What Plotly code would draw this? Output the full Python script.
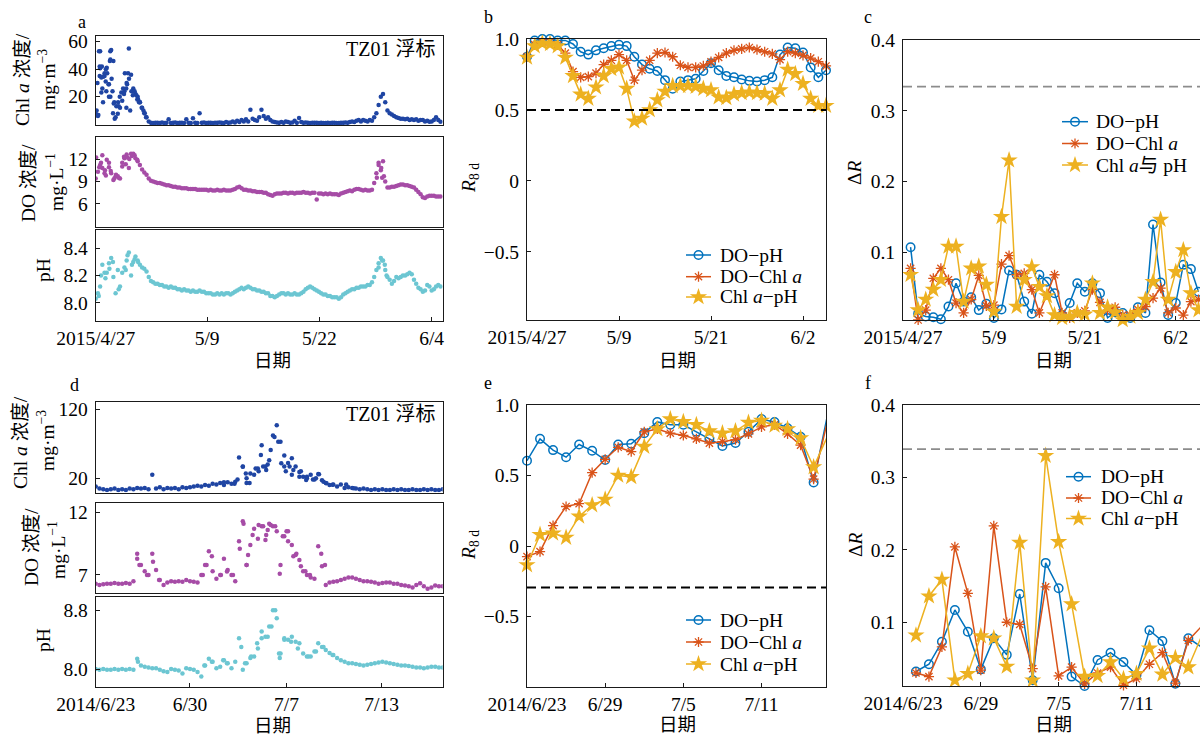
import numpy as np
import plotly.graph_objects as go

W, H = 1200, 736
FONT = "Liberation Serif, Times New Roman, Noto Sans CJK SC, serif"

# ---------------- data ----------------
# Panels a (2015 buoy TZ01), 6-hourly samples, day offset from 2015/4/27
A_STEP_DAYS = 0.25
a_chl = [8, 6, 53, 26, 35, 41, 20, 54, 46, 5, 7.5, 12, 17, 24, 30, 55,
         36, 26, 22, 20, 16, 12, 8, 5, 2, 1, 0.8, 1, 1, 0.8, 1.2, 0.9,
         1, 3.5, 0.9, 1, 1.2, 0.8, 1, 1.1, 0.9, 3.5, 1, 0.8, 4.3, 1, 0.9, 8,
         1, 1.2, 0.9, 1, 1, 0.8, 1.1, 1, 1.2, 1, 0.9, 1.5, 1, 1.3, 2, 1.2,
         2.5, 1.5, 3, 2, 3.5, 2, 10.5, 4, 3, 2.5, 5, 10.5, 6, 4, 5, 3,
         2, 1.5, 1.2, 1, 1.5, 1, 2, 1.5, 1, 1.2, 2.5, 1, 4.5, 1.5, 1, 1.2,
         1, 0.9, 1.1, 1, 1, 0.8, 1, 0.9, 0.8, 1, 0.9, 1, 1, 0.9, 0.8, 1,
         1, 1.2, 1, 1.5, 2, 1.5, 2.5, 3, 2, 3, 2.5, 2, 3, 2.5, 5, 8,
         14, 20, 22, 16, 10, 8, 7, 6, 5, 4.5, 4, 4, 3.5, 4, 3, 3.5,
         3, 3.5, 2.5, 3, 3, 2, 2.5, 1.7, 2, 3, 5, 3, 1.7]
a_do = [9.4, 10.3, 11.2, 12.5, 10.1, 11.9, 11.5, 10.1, 9.2, 9.7, 9.7, 9.4,
        11.0, 12.1, 12.6, 10.8, 12.7, 12.7, 12.1, 11.7, 11.2, 10.6, 10.2, 9.9,
        9.4, 9.1, 9.0, 8.9, 8.8, 8.8, 8.7, 8.6, 8.5, 8.5, 8.4, 8.3,
        8.3, 8.2, 8.2, 8.1, 8.1, 8.1, 8.0, 8.0, 8.0, 8.0, 7.9, 7.9,
        7.9, 7.9, 7.9, 7.8, 7.9, 7.8, 7.8, 7.9, 7.8, 7.8, 7.9, 7.8,
        7.8, 7.8, 7.9, 8.0, 8.2, 8.3, 8.1, 7.9, 7.9, 7.8, 7.8, 7.7,
        7.7, 7.6, 7.6, 7.6, 7.5, 7.5, 7.3, 7.2, 7.1, 7.3, 7.4, 7.4,
        7.4, 7.5, 7.5, 7.4, 7.5, 7.5, 7.4, 7.5, 7.5, 7.5, 7.6, 7.5,
        7.5, 7.4, 7.5, 7.5, 6.6, 7.4, 7.4, 7.3, 7.4, 7.3, 7.4, 7.3,
        7.3, 7.3, 7.2, 7.4, 7.5, 7.6, 7.7, 7.8, 7.7, 7.9, 8.0, 8.0,
        7.9, 7.8, 7.9, 7.8, 7.8, 7.9, 8.8, 10.1, 11.5, 10.5, 11.7, 9.0,
        8.2, 8.2, 8.3, 8.3, 8.4, 8.5, 8.6, 8.6, 8.5, 8.5, 8.4, 8.3,
        8.2, 7.9, 7.6, 7.3, 6.9, 6.8, 7.0, 7.1, 7.1, 7.1, 7.0, 7.0, 7.0]
a_ph = [8.03, 8.07, 8.12, 8.28, 8.22, 8.22, 8.29, 8.33, 8.19, 8.07, 8.24, 8.12,
        8.22, 8.26, 8.31, 8.37, 8.20, 8.30, 8.34, 8.31, 8.28, 8.26, 8.25, 8.23,
        8.19, 8.16, 8.15, 8.14, 8.14, 8.13, 8.13, 8.12, 8.12, 8.11, 8.12, 8.11,
        8.11, 8.10, 8.10, 8.09, 8.10, 8.09, 8.09, 8.08, 8.09, 8.08, 8.08, 8.09,
        8.08, 8.08, 8.07, 8.07, 8.07, 8.06, 8.06, 8.07, 8.06, 8.07, 8.06, 8.07,
        8.07, 8.06, 8.07, 8.08, 8.09, 8.10, 8.11, 8.10, 8.11, 8.12, 8.11, 8.10,
        8.10, 8.09, 8.09, 8.08, 8.08, 8.07, 8.07, 8.05, 8.05, 8.04, 8.05, 8.06,
        8.07, 8.07, 8.06, 8.07, 8.06, 8.06, 8.07, 8.06, 8.06, 8.07, 8.08, 8.10,
        8.11, 8.12, 8.11, 8.10, 8.09, 8.08, 8.07, 8.06, 8.06, 8.05, 8.05, 8.04,
        8.04, 8.04, 8.03, 8.04, 8.06, 8.07, 8.08, 8.09, 8.10, 8.10, 8.11, 8.11,
        8.12, 8.12, 8.12, 8.13, 8.13, 8.15, 8.19, 8.24, 8.29, 8.33, 8.31, 8.24,
        8.19, 8.17, 8.14, 8.16, 8.19, 8.18, 8.19, 8.20, 8.20, 8.21, 8.22, 8.21,
        8.17, 8.14, 8.11, 8.10, 8.08, 8.09, 8.13, 8.12, 8.09, 8.10, 8.12, 8.13, 8.12]

# extra (denser) samples read in the noisy bloom periods, panel a
a_chl_burst_t = [0.1, 0.2, 0.3, 0.37, 0.45, 0.45, 0.5, 0.64, 0.64, 0.7, 0.83, 0.85, 1.0, 1.13,
                 1.15, 1.2, 1.3, 1.45, 1.5, 1.6, 1.65, 1.66, 1.66, 1.8, 1.9, 1.96, 2.04, 2.1,
                 2.15, 2.34, 2.53, 2.6, 2.72, 2.9, 3.1, 3.2, 3.3, 3.45, 3.47, 3.55, 3.66, 3.77,
                 3.9, 4.04, 4.2, 4.3, 4.4, 4.6, 4.7, 4.8, 4.9, 5.0, 5.2, 5.4, 5.55, 5.7]
a_chl_burst = [10, 30, 6.6, 53, 42, 35, 40.6, 34, 23, 42, 16, 34.5, 37, 31,
               40, 24, 37, 29, 29, 46, 53, 47, 20, 33, 24, 8, 15, 16,
               4, 13, 16, 13, 20, 23, 26, 22, 37, 26, 12, 29, 37, 33,
               10, 24, 21, 24, 24, 21, 18, 18, 16, 16, 12, 10, 8, 5]
a_do_burst_t = [0.05, 0.4, 0.6, 0.75, 1.05, 1.15, 1.5, 1.7, 2.1, 2.3, 2.6, 3.0, 3.2, 3.4,
                3.6, 3.8, 4.1, 4.4, 4.7, 31.8, 32.0, 32.3, 32.4, 32.6]
a_do_burst = [12.2, 10.9, 11.5, 10.8, 10.5, 9.8, 10.9, 10.4, 9.4, 9.9, 9.5, 11.5, 12.3, 11.3,
              12.2, 12.0, 12.4, 12.5, 11.9, 9.5, 11.2, 10.8, 9.5, 9.7]
a_ph_burst_t = [0.35, 0.6, 1.1, 1.55, 1.95, 2.6, 3.4, 3.6, 4.1, 4.4, 4.8, 32.0, 32.4, 32.7,
                32.9]
a_ph_burst = [8.05, 8.20, 8.18, 8.25, 8.30, 8.10, 8.24, 8.35, 8.28, 8.32, 8.30, 8.26, 8.31,
              8.28, 8.20]

# Panels d (2014 buoy TZ01), 6-hourly samples, day offset from 2014/6/23
D_STEP_DAYS = 0.25
d_chl = [8, 5, 4, 3, 4, 5, 3, 4, 3, 5, 4, 6, 5, 6, 4, 25,
         5, 7, 4, 6, 5, 6, 4, 7, 6, 7, 8, 9, 8, 10, 9, 12,
         11, 13, 10, 14, 12, 15, 50, 37, 13, 27, 25, 34, 68, 37, 46, 82,
         97, 73, 53, 42, 49, 37, 29, 22, 20, 25, 18, 26, 17, 13, 10, 11,
         8, 11, 6, 7, 6, 5, 4, 5, 4, 3, 4, 3, 4, 3, 3, 4,
         3, 4, 3, 3, 4, 3, 3, 4, 3, 4, 3, 3, 4]
d_do = [6.3, 6.2, 6.25, 6.3, 6.3, 6.35, 6.3, 6.3, 6.35, 6.3, 6.5, 8.7,
        7.8, 7.3, 7.0, 8.7, 7.4, 6.6, 6.2, 6.4, 6.5, 6.45, 6.5, 6.45,
        6.6, 6.5, 6.45, 6.4, 7.0, 7.8, 8.9, 7.3, 6.7, 7.0, 8.3, 7.4,
        7.0, 6.5, 9.7, 11.3, 7.8, 9.4, 10.7, 9.9, 10.9, 9.8, 11.1, 10.9,
        10.5, 7.8, 10.1, 10.5, 9.4, 8.6, 8.2, 7.3, 7.0, 6.8, 6.7, 9.3,
        7.7, 6.2, 6.4, 6.45, 6.5, 6.6, 6.7, 6.8, 6.8, 6.7, 6.6, 6.5,
        6.5, 6.45, 6.4, 6.3, 6.35, 6.4, 6.4, 6.3, 6.3, 6.2, 6.15, 6.1,
        6.0, 6.2, 6.33, 6.1, 5.9, 6.0, 6.15, 6.1, 6.1]
d_ph = [8.00, 7.99, 8.00, 7.99, 7.99, 8.00, 7.99, 8.00, 7.99, 8.00, 7.99, 8.14,
        8.05, 8.03, 8.02, 8.01, 8.01, 7.99, 7.97, 7.96, 8.00, 7.99, 7.98, 7.94,
        8.01, 8.00, 7.99, 7.96, 7.90, 8.05, 8.14, 8.10, 8.01, 8.03, 8.12, 8.08,
        8.01, 8.10, 8.42, 7.99, 8.08, 8.15, 8.17, 8.28, 8.51, 8.44, 8.58, 8.80,
        8.69, 8.21, 8.42, 8.40, 8.44, 8.37, 8.35, 8.21, 8.17, 8.17, 8.24, 8.35,
        8.30, 8.26, 8.22, 8.19, 8.15, 8.12, 8.10, 8.08, 8.08, 8.07, 8.06, 8.05,
        8.06, 8.07, 8.08, 8.09, 8.10, 8.09, 8.08, 8.07, 8.06, 8.05, 8.05, 8.04,
        8.03, 8.02, 8.02, 8.01, 8.02, 8.03, 8.03, 8.02, 8.02]

# extra (denser) samples read in the bloom period, panel d
d_chl_burst_t = [8.5, 9.2, 9.4, 9.75, 9.95, 10.0, 10.2, 10.6, 10.8, 10.95, 11.1, 11.3, 11.4,
                 11.6, 11.85, 12.1, 12.3, 12.5, 12.6, 12.85, 13.0, 13.1, 13.5, 13.6, 13.95,
                 14.0, 14.4, 14.6, 14.8, 15.1, 15.3, 15.7, 16.6, 17.1]
d_chl_burst = [14, 12, 18, 36.8, 27, 20, 13, 34, 30, 53.7, 37, 32, 40,
               61, 80, 73, 41.6, 37, 30, 37, 25, 32, 22, 30, 17.6,
               22, 18, 20, 25.8, 15, 12.8, 10.4, 11, 5.6]
d_do_burst_t = [2.75, 2.9, 3.4, 3.8, 4.2, 7.1, 7.35, 7.7, 8.3, 8.7, 9.1, 9.55, 9.8, 10.0,
                10.1, 10.4, 10.8, 11.1, 11.3, 11.4, 11.6, 11.9, 12.2, 12.4, 12.65, 12.75,
                13.1, 13.3, 13.6, 13.9, 14.2, 14.95, 15.2]
d_do_burst = [8.3, 7.8, 7.0, 8.07, 6.6, 7.0, 7.8, 8.5, 7.0, 7.27, 7.0, 9.1, 11.1, 7.8,
              8.6, 10.2, 11.0, 10.9, 10.2, 10.6, 11.0, 10.9, 7.1, 10.1, 10.5, 9.7,
              8.5, 8.7, 7.7, 7.3, 7.0, 8.7, 7.8]
d_ph_burst_t = [2.8, 7.2, 7.7, 8.45, 8.7, 9.65, 9.9, 10.3, 10.7, 11.0, 11.4, 11.65, 11.9,
                12.15, 12.2, 12.5, 12.95, 13.4, 14.1, 14.6, 15.1, 15.7]
d_ph_burst = [8.10, 8.05, 8.10, 8.12, 8.08, 8.30, 8.08, 8.17, 8.35, 8.42, 8.44, 8.58, 8.80,
              8.21, 8.15, 8.40, 8.37, 8.28, 8.17, 8.24, 8.30, 8.19]

# Panel b: 8-day moving correlation R_8d (daily), 2015
b_days = list(range(40))
b_do_ph = [0.875, 0.99, 1.0, 1.0, 0.99, 0.99, 0.965, 0.91, 0.89, 0.92, 0.935, 0.95,
           0.96, 0.95, 0.875, 0.82, 0.79, 0.775, 0.71, 0.65, 0.70, 0.71, 0.72, 0.775,
           0.83, 0.78, 0.74, 0.73, 0.715, 0.705, 0.70, 0.71, 0.73, 0.89, 0.94, 0.935,
           0.905, 0.80, 0.73, 0.78]
b_do_chl = [0.875, 0.96, 0.98, 0.98, 0.96, 0.90, 0.77, 0.73, 0.735, 0.76, 0.82, 0.85,
            0.89, 0.85, 0.71, 0.78, 0.85, 0.90, 0.905, 0.875, 0.815, 0.80, 0.80, 0.81,
            0.84, 0.87, 0.90, 0.92, 0.93, 0.94, 0.925, 0.91, 0.895, 0.855, 0.91, 0.90,
            0.885, 0.865, 0.84, 0.81]
b_chl_ph = [0.87, 0.95, 0.97, 0.965, 0.95, 0.87, 0.74, 0.61, 0.58, 0.66, 0.74, 0.79,
            0.80, 0.65, 0.42, 0.44, 0.50, 0.57, 0.63, 0.67, 0.67, 0.67, 0.665, 0.65,
            0.64, 0.59, 0.585, 0.61, 0.62, 0.625, 0.62, 0.615, 0.58, 0.64, 0.785, 0.755,
            0.685, 0.58, 0.53, 0.53]
B_THRESHOLD = 0.5

# Panel c: delta R (daily), 2015
c_days = list(range(1, 40))
c_do_ph = [0.107, 0.013, 0.009, 0.008, 0.005, 0.023, 0.056, 0.030, 0.036, 0.018,
           0.027, 0.007, 0.019, 0.074, 0.068, 0.030, 0.013, 0.068, 0.058, 0.042,
           0.011, 0.028, 0.056, 0.044, 0.056, 0.042, 0.007, 0.015, 0.014, 0.007,
           0.022, 0.014, 0.139, 0.057, 0.011, 0.028, 0.082, 0.076, 0.044]
c_do_chl = [0.077, 0.004, 0.018, 0.063, 0.077, 0.061, 0.028, 0.014, 0.033, 0.067,
            0.024, 0.025, 0.083, 0.095, 0.068, 0.070, 0.047, 0.014, 0.040, 0.068,
            0.014, 0.007, 0.014, 0.017, 0.047, 0.029, 0.018, 0.022, 0.011, 0.011,
            0.019, 0.023, 0.035, 0.049, 0.014, 0.021, 0.011, 0.030, 0.033]
c_chl_ph = [0.068, 0.018, 0.033, 0.047, 0.061, 0.108, 0.108, 0.030, 0.077, 0.080,
            0.054, 0.016, 0.150, 0.230, 0.023, 0.061, 0.079, 0.051, 0.038, 0.011,
            0.007, 0.009, 0.014, 0.012, 0.056, 0.014, 0.022, 0.015, 0.004, 0.009,
            0.014, 0.033, 0.058, 0.146, 0.033, 0.072, 0.103, 0.042, 0.018]
C_THRESHOLD = 0.334

# Panel e: R_8d (daily), 2014
e_days = list(range(24))
e_do_ph = [0.605, 0.76, 0.68, 0.63, 0.72, 0.675, 0.61, 0.72, 0.725, 0.80, 0.88, 0.86,
           0.86, 0.81, 0.76, 0.71, 0.73, 0.81, 0.90, 0.88, 0.835, 0.775, 0.45, 0.90]
e_do_chl = [-0.075, -0.04, 0.145, 0.28, 0.30, 0.52, 0.615, 0.70, 0.67, 0.81, 0.83, 0.80,
            0.785, 0.76, 0.73, 0.74, 0.755, 0.795, 0.845, 0.86, 0.795, 0.715, 0.475, 0.86]
e_chl_ph = [-0.135, 0.08, 0.09, 0.06, 0.21, 0.29, 0.33, 0.50, 0.49, 0.705, 0.83, 0.90,
            0.88, 0.86, 0.815, 0.80, 0.815, 0.875, 0.89, 0.855, 0.83, 0.765, 0.56, 0.765]
E_THRESHOLD = -0.295

# Panel f: delta R (daily), 2014
f_days = list(range(1, 24))
f_do_ph = [0.032, 0.042, 0.073, 0.117, 0.087, 0.035, 0.078, 0.055, 0.139, 0.020, 0.182,
           0.147, 0.025, 0.012, 0.048, 0.058, 0.045, 0.027, 0.089, 0.074, 0.015, 0.078, 0.066]
f_do_chl = [0.030, 0.025, 0.066, 0.204, 0.140, 0.034, 0.233, 0.100, 0.097, 0.036, 0.149,
            0.026, 0.038, 0.015, 0.030, 0.038, 0.013, 0.022, 0.042, 0.058, 0.016, 0.075, 0.094]
f_chl_ph = [0.082, 0.136, 0.159, 0.020, 0.029, 0.081, 0.078, 0.039, 0.210, 0.020, 0.330,
            0.211, 0.125, 0.025, 0.026, 0.045, 0.022, 0.029, 0.064, 0.028, 0.051, 0.038, 0.080]
F_THRESHOLD = 0.339

# tick labels
a_tickvals = [0, 12.6, 25.3, 38.0]
a_ticktext = ["2015/4/27", "5/9", "5/22", "6/4"]
b_tickvals = [0, 12, 24, 36]
b_ticktext = ["2015/4/27", "5/9", "5/21", "6/2"]
d_tickvals = [0, 6.25, 12.65, 18.95]
d_ticktext = ["2014/6/23", "6/30", "7/7", "7/13"]
e_tickvals = [0, 6, 12, 18]
e_ticktext = ["2014/6/23", "6/29", "7/5", "7/11"]

a_t = [i * A_STEP_DAYS for i in range(len(a_chl))]
d_t = [i * D_STEP_DAYS for i in range(len(d_chl))]

# ---------------- styling ----------------
C_CHL = "#1f45a3"
C_DO = "#a64ca6"
C_PH = "#6cc6d2"
C_BLUE = "#0072BD"
C_ORANGE = "#D95319"
C_YELLOW = "#EDB120"
LINEC = "#1a1a1a"
TICK_SIZE = 19.5


def xd(p0, p1):
    return [p0 / W, p1 / W]


def yd(top, bottom):
    return [1 - bottom / H, 1 - top / H]


def px(x):
    return x / W


def py(y):
    return 1 - y / H


def axis(domain, rng, anchor, standoff=3, **kw):
    d = dict(domain=domain, range=rng, anchor=anchor, showline=True, linecolor=LINEC,
             linewidth=1, mirror=True, ticks="inside", ticklen=4, tickcolor=LINEC,
             showgrid=False, zeroline=False, ticklabelstandoff=standoff, automargin=False,
             fixedrange=True, tickfont=dict(size=TICK_SIZE, color="black", family=FONT))
    d.update(kw)
    return d


fig = go.Figure()


def scat(x, y, color, ax):
    fig.add_trace(go.Scatter(x=x, y=y, mode="markers", showlegend=False,
                             marker=dict(size=4.5, color=color),
                             xaxis="x" + ax, yaxis="y" + ax, hoverinfo="skip"))


scat(a_t + a_chl_burst_t, a_chl + a_chl_burst, C_CHL, "")
scat(a_t + a_do_burst_t, a_do + a_do_burst, C_DO, "2")
scat(a_t + a_ph_burst_t, a_ph + a_ph_burst, C_PH, "3")
scat(d_t + d_chl_burst_t, d_chl + d_chl_burst, C_CHL, "6")
scat(d_t + d_do_burst_t, d_do + d_do_burst, C_DO, "7")
scat(d_t + d_ph_burst_t, d_ph + d_ph_burst, C_PH, "8")

STYLES = [
    (C_BLUE, dict(color=C_BLUE, symbol="circle-open", size=8.5, line=dict(width=1.5, color=C_BLUE))),
    (C_ORANGE, dict(color=C_ORANGE, symbol="asterisk-open", size=8.5, line=dict(width=1.3, color=C_ORANGE))),
    (C_YELLOW, dict(color=C_YELLOW, symbol="star", size=13, line=dict(width=0))),
]


def lines(x, ys, ax):
    for y, (c, st) in zip(ys, STYLES):
        fig.add_trace(go.Scatter(x=x, y=y, mode="lines+markers", showlegend=False,
                                 line=dict(color=c, width=1.5), marker=st,
                                 xaxis="x" + ax, yaxis="y" + ax, cliponaxis=False))


lines(b_days, [b_do_ph, b_do_chl, b_chl_ph], "4")
lines(c_days, [c_do_ph, c_do_chl, c_chl_ph], "5")
lines(e_days, [e_do_ph, e_do_chl, e_chl_ph], "9")
lines(f_days, [f_do_ph, f_do_chl, f_chl_ph], "10")

# ---------------- legends (drawn on a full-page pixel overlay) ----------------
names_b = ["DO\u2212pH", "DO\u2212Chl <i>a</i>", "Chl <i>a</i>\u2212pH"]
names_c = ["DO\u2212pH", "DO\u2212Chl <i>a</i>", "Chl <i>a</i>与 pH"]
# (line start px, line end px, text start px, entry rows px, names)
LEGENDS = [
    (686, 711, 718, [255, 276.7, 297], names_b),
    (1062, 1088, 1094, [121.7, 143.5, 165], names_c),
    (686, 711, 718, [620, 642, 664], names_b),
    (1066, 1091, 1099, [476.7, 498, 518.5], names_b),
]
ann = []
for x0, x1, xt, rows, names in LEGENDS:
    for yrow, name, (c, st) in zip(rows, names, STYLES):
        fig.add_trace(go.Scatter(x=[x0, x1], y=[yrow, yrow], mode="lines", showlegend=False,
                                 line=dict(color=c, width=1.5), xaxis="x11", yaxis="y11",
                                 hoverinfo="skip"))
        fig.add_trace(go.Scatter(x=[(x0 + x1) / 2], y=[yrow], mode="markers", showlegend=False,
                                 marker=st, xaxis="x11", yaxis="y11", hoverinfo="skip"))
        ann.append(dict(x=px(xt), y=py(yrow), xref="paper", yref="paper", text=name,
                        showarrow=False, xanchor="left", yanchor="middle",
                        font=dict(size=19.5, family=FONT, color="black")))

# ---------------- axes ----------------
AX_A = xd(95.7, 442.7)
AX_B = xd(527, 826)
AX_C = xd(903, 1200)
hidden_x = dict(showticklabels=False, ticks="")
XS = 0  # x tick label standoff

layout = dict(
    template="none",
    width=W, height=H, margin=dict(l=0, r=0, t=0, b=0, pad=0, autoexpand=False),
    paper_bgcolor="white", plot_bgcolor="rgba(0,0,0,0)",
    font=dict(family=FONT, size=17, color="black"),
    showlegend=False,
    # panel a
    xaxis=axis(AX_A, [0, 39.25], "y", **hidden_x),
    yaxis=axis(yd(36, 125), [-0.6, 64.1], "x", tickvals=[20, 40, 60]),
    xaxis2=axis(AX_A, [0, 39.25], "y2", **hidden_x),
    yaxis2=axis(yd(136.7, 227), [2.9, 15.0], "x2", tickvals=[6, 9, 12]),
    xaxis3=axis(AX_A, [0, 39.25], "y3", XS, tickvals=a_tickvals, ticktext=a_ticktext),
    yaxis3=axis(yd(230, 320.7), [7.868, 8.535], "x3", tickvals=[8.0, 8.2, 8.4],
                ticktext=["8.0", "8.2", "8.4"]),
    # panel b
    xaxis4=axis(AX_B, [0, 39], "y4", XS, tickvals=b_tickvals, ticktext=b_ticktext),
    yaxis4=axis(yd(39, 320), [-0.98, 1.0], "x4", tickvals=[-0.5, 0, 0.5, 1.0],
                ticktext=["\u22120.5", "0", "0.5", "1.0"]),
    # panel c
    xaxis5=axis(AX_C, [0, 39.2], "y5", XS, tickvals=b_tickvals, ticktext=b_ticktext),
    yaxis5=axis(yd(40, 320), [0.004, 0.4], "x5", mirror=False, tickvals=[0.1, 0.2, 0.3, 0.4],
                ticktext=["0.1", "0.2", "0.3", "0.4"]),
    # panel d
    xaxis6=axis(AX_A, [0, 23], "y6", **hidden_x),
    yaxis6=axis(yd(402, 492.5), [-0.7, 130.6], "x6", tickvals=[20, 120]),
    xaxis7=axis(AX_A, [0, 23], "y7", **hidden_x),
    yaxis7=axis(yd(503.3, 593.3), [5.53, 12.75], "x7", tickvals=[7, 12]),
    xaxis8=axis(AX_A, [0, 23], "y8", XS, tickvals=d_tickvals, ticktext=d_ticktext),
    yaxis8=axis(yd(597, 686.7), [7.76, 8.98], "x8", tickvals=[8.0, 8.8], ticktext=["8.0", "8.8"]),
    # panel e
    xaxis9=axis(AX_B, [0, 22.95], "y9", XS, tickvals=e_tickvals, ticktext=e_ticktext),
    yaxis9=axis(yd(405, 687), [-1.0, 1.0], "x9", tickvals=[-0.5, 0, 0.5, 1.0],
                ticktext=["\u22120.5", "0", "0.5", "1.0"]),
    # panel f
    xaxis10=axis(AX_C, [0, 22.9], "y10", XS, tickvals=e_tickvals, ticktext=e_ticktext),
    yaxis10=axis(yd(405, 686), [0.012, 0.4], "x10", mirror=False, tickvals=[0.1, 0.2, 0.3, 0.4],
                 ticktext=["0.1", "0.2", "0.3", "0.4"]),
    # full-page pixel overlay for legend keys
    xaxis11=dict(domain=[0, 1], range=[0, W], anchor="y11", visible=False, fixedrange=True),
    yaxis11=dict(domain=[0, 1], range=[H, 0], anchor="x11", visible=False, fixedrange=True),
)
fig.update_layout(**layout)

# threshold lines
DASH = "9px,5px"
shapes = [
    dict(type="line", xref="x4 domain", yref="y4", x0=0, x1=1, y0=B_THRESHOLD, y1=B_THRESHOLD,
         line=dict(color="black", width=2, dash=DASH)),
    dict(type="line", xref="x9 domain", yref="y9", x0=0, x1=1, y0=E_THRESHOLD, y1=E_THRESHOLD,
         line=dict(color="black", width=2, dash=DASH)),
    dict(type="line", xref="x5 domain", yref="y5", x0=0, x1=1, y0=C_THRESHOLD, y1=C_THRESHOLD,
         line=dict(color="#8c8c8c", width=1.8, dash=DASH)),
    dict(type="line", xref="x10 domain", yref="y10", x0=0, x1=1, y0=F_THRESHOLD, y1=F_THRESHOLD,
         line=dict(color="#8c8c8c", width=1.8, dash=DASH)),
]
fig.update_layout(shapes=shapes)

# ---------------- annotations ----------------


def text(x, y, s, size=17, angle=0, xanchor="center"):
    ann.append(dict(x=px(x), y=py(y), xref="paper", yref="paper", text=s, showarrow=False,
                    textangle=angle, xanchor=xanchor, yanchor="middle",
                    font=dict(size=size, family=FONT, color="black")))


# panel letters
for lx, ly, s in [(82, 22, "a"), (488, 17, "b"), (868, 17, "c"),
                  (74, 385, "d"), (488, 383, "e"), (868, 383, "f")]:
    text(lx, ly, s, 18)

# TZ01 labels
text(437, 49, "TZ01 浮标", 20, xanchor="right")
text(437, 414, "TZ01 浮标", 20, xanchor="right")

# y titles panel a
text(22, 80, "Chl <i>a</i> 浓度/", 19.5, -90)
text(47, 80, "mg·m<sup>\u22123</sup>", 19.5, -90)
text(29, 183, "DO 浓度/", 19.5, -90)
text(55, 182, "mg·L<sup>\u22121</sup>", 19.5, -90)
text(43, 270, "pH", 19.5, -90)
# y titles panel d
text(20, 443, "Chl <i>a</i> 浓度/", 19.5, -90)
text(46, 441, "mg·m<sup>\u22123</sup>", 19.5, -90)
text(31, 547, "DO 浓度/", 19.5, -90)
text(57, 550, "mg·L<sup>\u22121</sup>", 19.5, -90)
text(43, 640, "pH", 19.5, -90)
# b, c, e, f y titles
text(470, 178, "<i>R</i><sub>8 d</sub>", 19.5, -90)
text(470, 545, "<i>R</i><sub>8 d</sub>", 19.5, -90)
text(855, 173, "Δ<i>R</i>", 19.5, -90)
text(855, 545, "Δ<i>R</i>", 19.5, -90)
# x titles
for xx, yy in [(272, 361), (678, 361), (1053, 361), (272, 726), (678, 725), (1053, 725)]:
    text(xx, yy, "日期", 18.5)

fig.update_layout(annotations=ann)

fig.write_html("out.html", config={"displayModeBar": False},
               post_script="document.body.style.margin='0';document.body.style.padding='0';")
